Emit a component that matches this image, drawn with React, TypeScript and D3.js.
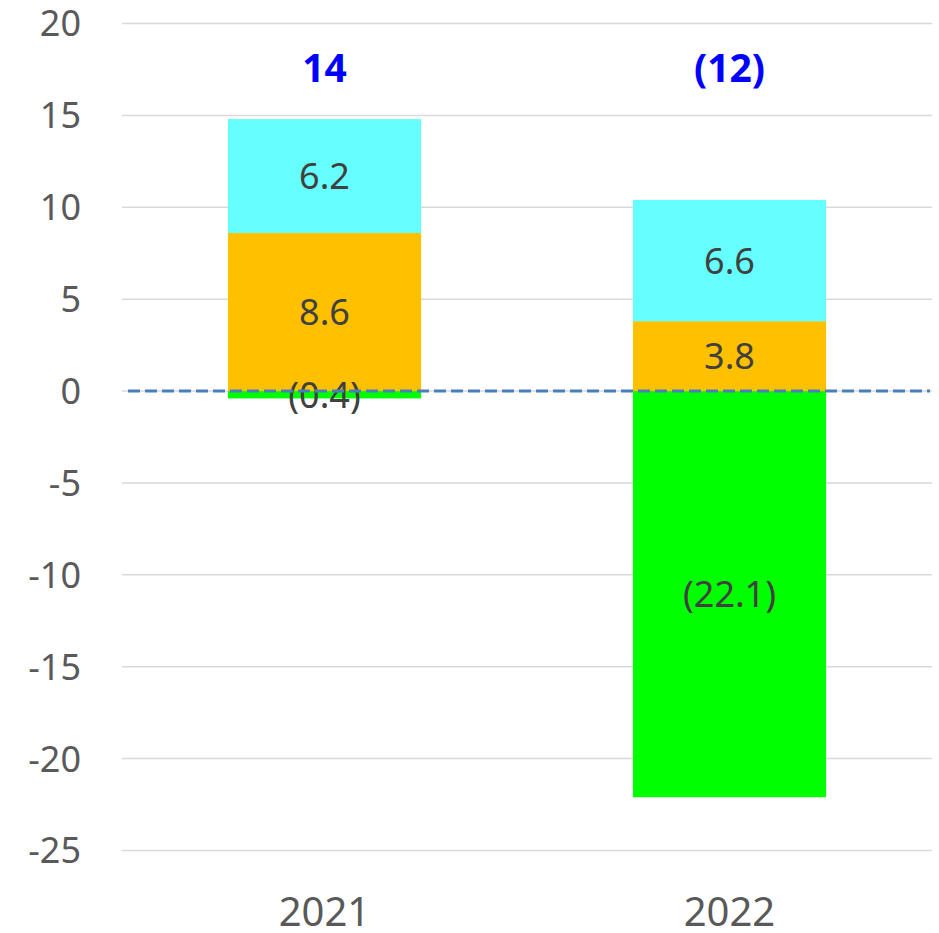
import React, { useEffect, useRef } from 'react';
import * as d3 from 'd3';

const categories = ['2021', '2022'];
const greenValues = [-0.4, -22.1];
const orangeValues = [8.6, 3.8];
const cyanValues = [6.2, 6.6];
const yTicks = [-25, -20, -15, -10, -5, 0, 5, 10, 15, 20];

const seriesKeys = ['green', 'orange', 'cyan'];
const seriesColors: Record<string, string> = {
  green: '#00ff00',
  orange: '#ffc000',
  cyan: '#66ffff'
};

const fmt = (v: number) => (v < 0 ? '(' + Math.abs(v).toFixed(1) + ')' : v.toFixed(1));
const fmtTotal = (v: number) => (v < 0 ? '(' + Math.abs(Math.round(v)) + ')' : String(Math.round(v)));

const W = 939;
const H = 933;

function App() {
  const ref = useRef<SVGSVGElement>(null);

  useEffect(() => {
    const svg = d3.select(ref.current);
    svg.selectAll('*').remove();

    const font = '"Noto Sans", "Open Sans", sans-serif';

    const rows = categories.map((c, i) => ({
      cat: c,
      green: greenValues[i],
      orange: orangeValues[i],
      cyan: cyanValues[i]
    }));

    const x = d3.scaleBand().domain(categories).range([122, 932]).paddingInner(0.523).paddingOuter(0.2615);
    const y = d3.scaleLinear().domain([-25, 20]).range([850.5, 23.5]);

    // gridlines
    svg.append('g')
      .selectAll('line')
      .data(yTicks)
      .enter().append('line')
      .attr('x1', 122)
      .attr('x2', 932)
      .attr('y1', d => y(d))
      .attr('y2', d => y(d))
      .attr('stroke', '#d9d9d9')
      .attr('stroke-width', 1.5);

    // y tick labels
    svg.append('g')
      .selectAll('text')
      .data(yTicks)
      .enter().append('text')
      .attr('x', 81)
      .attr('y', d => y(d))
      .attr('dy', '0.36em')
      .attr('text-anchor', 'end')
      .attr('font-family', font)
      .attr('font-size', 36)
      .attr('fill', '#595959')
      .text(d => String(d));

    // category labels
    svg.append('g')
      .selectAll('text')
      .data(categories)
      .enter().append('text')
      .attr('x', d => (x(d) as number) + x.bandwidth() / 2)
      .attr('y', 912)
      .attr('dy', '0.36em')
      .attr('text-anchor', 'middle')
      .attr('font-family', font)
      .attr('font-size', 40)
      .attr('fill', '#595959')
      .text(d => d);

    const stacked = d3.stack<any>()
      .keys(seriesKeys)
      .offset(d3.stackOffsetDiverging)(rows);

    // bars
    const layers = svg.append('g')
      .selectAll('g')
      .data(stacked)
      .enter().append('g')
      .attr('fill', d => seriesColors[d.key]);

    layers.selectAll('rect')
      .data(d => d.map(p => ({ p, key: d.key })))
      .enter().append('rect')
      .attr('x', d => x(d.p.data.cat) as number)
      .attr('width', x.bandwidth())
      .attr('y', d => y(Math.max(d.p[0], d.p[1])))
      .attr('height', d => Math.abs(y(d.p[0]) - y(d.p[1])));

    // segment labels
    svg.append('g')
      .selectAll('text')
      .data(stacked.flatMap(s => s.map(p => ({ p, key: s.key }))))
      .enter().append('text')
      .attr('x', d => (x(d.p.data.cat) as number) + x.bandwidth() / 2)
      .attr('y', d => y((d.p[0] + d.p[1]) / 2))
      .attr('dy', '0.36em')
      .attr('text-anchor', 'middle')
      .attr('font-family', font)
      .attr('font-size', 36)
      .attr('fill', '#404040')
      .text(d => fmt(d.p.data[d.key]));

    // totals
    svg.append('g')
      .selectAll('text')
      .data(rows)
      .enter().append('text')
      .attr('x', d => (x(d.cat) as number) + x.bandwidth() / 2)
      .attr('y', y(17.6))
      .attr('dy', '0.36em')
      .attr('text-anchor', 'middle')
      .attr('font-family', font)
      .attr('font-weight', 'bold')
      .attr('font-size', 39)
      .attr('fill', '#0000ff')
      .text(d => fmtTotal(d.green + d.orange + d.cyan));

    // zero reference line
    svg.append('line')
      .attr('x1', 128)
      .attr('x2', 930)
      .attr('y1', y(0))
      .attr('y2', y(0))
      .attr('stroke', '#4a7ebb')
      .attr('stroke-width', 3)
      .attr('stroke-dasharray', '12 5');
  }, []);

  return (
    <svg
      ref={ref}
      width={W}
      height={H}
      style={{ position: 'absolute', left: 0, top: 0, background: '#fff' }}
    />
  );
}

export default App;
